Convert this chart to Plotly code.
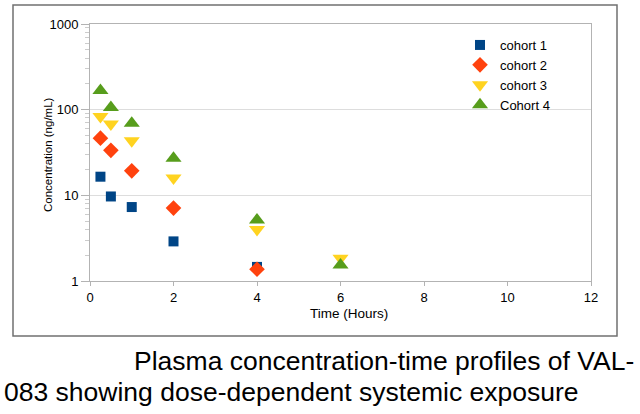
import plotly.graph_objects as go

time_c1 = [0.25, 0.5, 1, 2, 4]
conc_c1 = [16.5, 9.7, 7.3, 2.9, 1.46]
time_c2 = [0.25, 0.5, 1, 2, 4]
conc_c2 = [46.5, 33.5, 19.3, 7.1, 1.37]
time_c3 = [0.25, 0.5, 1, 2, 4, 6]
conc_c3 = [83, 68, 43.5, 15.9, 4.0, 1.84]
time_c4 = [0.25, 0.5, 1, 2, 4, 6]
conc_c4 = [167, 106, 69.5, 27.1, 5.16, 1.54]

series_names = ["cohort 1", "cohort 2", "cohort 3", "Cohort 4"]
x_ticks = [0, 2, 4, 6, 8, 10, 12]
y_ticks = [1, 10, 100, 1000]

FONT = "Liberation Sans, Arial, sans-serif"

fig = go.Figure()
styles = [
    (time_c1, conc_c1, "square", "#004586", 10),
    (time_c2, conc_c2, "diamond", "#ff420e", 12),
    (time_c3, conc_c3, "triangle-down", "#ffd320", 14),
    (time_c4, conc_c4, "triangle-up", "#579d1c", 14),
]
for name, (xs, ys, sym, col, sz) in zip(series_names, styles):
    fig.add_trace(go.Scatter(x=xs, y=ys, mode="markers", name=name,
                             marker=dict(symbol=sym, color=col, size=sz, line=dict(width=0))))

W, H = 640, 414
L, R, T, B = 90, 591, 24, 281

def px(xp):
    return (xp - L) / (R - L)

def py(yp):
    return (B - yp) / (B - T)

fig.update_layout(
    width=W, height=H,
    margin=dict(l=L, r=W - R, t=T, b=H - B),
    paper_bgcolor="white", plot_bgcolor="white",
    font=dict(family=FONT, size=13, color="#000000"),
    showlegend=True,
    legend=dict(x=px(460), y=py(30), xanchor="left", yanchor="top",
                bgcolor="rgba(0,0,0,0)", font=dict(size=13, family=FONT),
                itemwidth=30, tracegroupgap=0),
    xaxis=dict(range=[0, 12], tickvals=x_ticks, ticks="outside", ticklen=4,
               tickcolor="#b3b3b3", showgrid=False, zeroline=False,
               showline=True, linecolor="#b3b3b3", linewidth=1, mirror=True,
               tickfont=dict(size=13, family=FONT)),
    yaxis=dict(type="log", range=[0, 3], tickvals=y_ticks, ticktext=[str(v) for v in y_ticks],
               ticks="outside", ticklen=8, tickcolor="#b3b3b3",
               showgrid=True, gridcolor="#dddddd", gridwidth=1, zeroline=False,
               showline=True, linecolor="#b3b3b3", linewidth=1, mirror=True,
               tickfont=dict(size=13, family=FONT),
               minor=dict(ticks="outside", ticklen=4, tickcolor="#cccccc", showgrid=False,
                          tickvals=[m * d for d in (1, 10, 100) for m in range(2, 10)])),
)

# outer frame
fig.add_shape(type="rect", xref="paper", yref="paper",
              x0=px(13), x1=px(617), y0=py(336), y1=py(5),
              line=dict(color="#707070", width=1.5), fillcolor="rgba(0,0,0,0)", layer="below")

fig.add_annotation(text="Concentration (ng/mL)", xref="paper", yref="paper",
                   x=px(40), y=py(155), textangle=-90, showarrow=False,
                   font=dict(size=11.5, family=FONT))
fig.add_annotation(text="Time (Hours)", xref="paper", yref="paper",
                   x=px(349), y=py(323), showarrow=False,
                   font=dict(size=13.5, family=FONT))

fig.add_annotation(text="Plasma concentration-time profiles of VAL-", xref="paper", yref="paper",
                   x=px(132), y=py(361), xanchor="left", yanchor="middle", showarrow=False,
                   font=dict(size=26.5, family=FONT, color="#000000"))
fig.add_annotation(text="083 showing dose-dependent systemic exposure", xref="paper", yref="paper",
                   x=px(2), y=py(392), xanchor="left", yanchor="middle", showarrow=False,
                   font=dict(size=26.5, family=FONT, color="#000000"))

fig.write_html("out.html", config={"displayModeBar": False},
               post_script="document.body.style.margin='0px';")
